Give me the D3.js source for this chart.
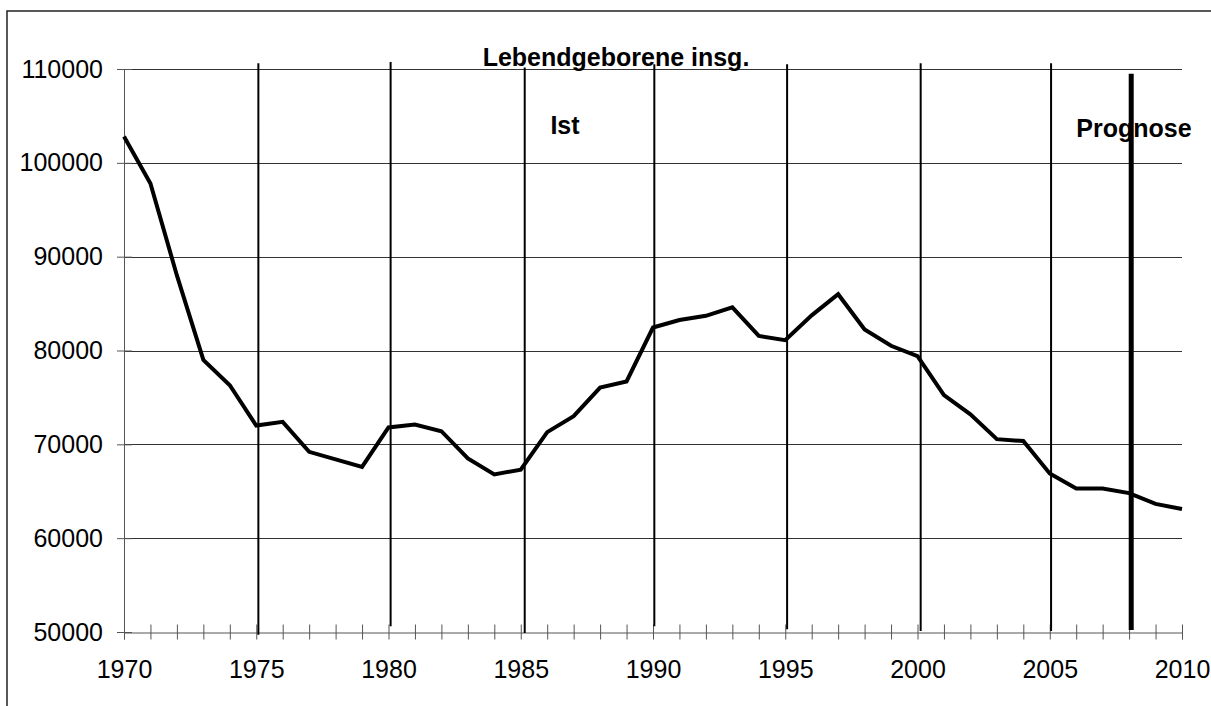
<!DOCTYPE html>
<html>
<head>
<meta charset="utf-8">
<script src="https://cdn.jsdelivr.net/npm/d3@7"></script>
<style>
html,body{margin:0;padding:0;background:#fff;}
svg{display:block;}
text{font-family:"Liberation Sans",Arial,sans-serif;}
</style>
</head>
<body>
<div id="chart"></div>
<script>
// ---- data ----
const years = d3.range(1970, 2011);
const births = [102800, 97800, 88000, 79000, 76300, 72000, 72400, 69200, 68400, 67600,
                71800, 72100, 71400, 68500, 66800, 67300, 71300, 73000, 76050, 76700,
                82450, 83250, 83700, 84600, 81550, 81100, 83750, 86000, 82250, 80500,
                79400, 75250, 73200, 70550, 70350, 66900, 65300, 65300, 64800, 63650, 63100];
const yTicks = [50000, 60000, 70000, 80000, 90000, 100000, 110000];
const xTickLabels = [1970, 1975, 1980, 1985, 1990, 1995, 2000, 2005, 2010];
const markerYears = [1975.08, 1980.08, 1985.15, 1990.05, 1995.07, 2000.12, 2005.05];
const markerTop = [110600, 110750, 110150, 110500, 110500, 110600, 110600];
const markerBottom = [49700, 50600, 49900, 50600, 50300, 50100, 50100];
const prognoseYear = 2008.08;
const prognoseRange = [109500, 50200];
const title = "Lebendgeborene insg.";
const labelIst = "Ist";
const labelPrognose = "Prognose";

// ---- layout ----
const W = 1211, H = 706;
const FS = 25;
const x = d3.scaleLinear().domain([1970, 2010]).range([124, 1182]);
const y = d3.scaleLinear().domain([50000, 110000]).range([632, 69]);

const svg = d3.select("#chart").append("svg").attr("width", W).attr("height", H);

// outer frame
svg.append("rect").attr("x", 7).attr("y", 11).attr("width", W + 20).attr("height", H + 20)
  .attr("fill", "none").attr("stroke", "#222").attr("stroke-width", 1.5);

// horizontal gridlines
svg.append("g").selectAll("line").data(yTicks.slice(1)).join("line")
  .attr("x1", x(1970)).attr("x2", x(2010))
  .attr("y1", d => Math.round(y(d)) + 0.5).attr("y2", d => Math.round(y(d)) + 0.5)
  .attr("stroke", "#333").attr("stroke-width", 1);

// y axis (labels + crossing ticks)
const yAxis = svg.append("g").attr("transform", `translate(${x(1970)},0)`)
  .call(d3.axisLeft(y).tickValues(yTicks).tickFormat(d3.format("d")).tickSize(7).tickPadding(14));
yAxis.select(".domain").attr("stroke", "#555");
yAxis.selectAll(".tick line").attr("x2", 8).attr("x1", -7).attr("stroke", "#555");
yAxis.selectAll(".tick text").attr("font-size", FS).attr("fill", "#000")
  .attr("font-family", "Liberation Sans, Arial, sans-serif");

// x axis
const xAxis = svg.append("g").attr("transform", `translate(0,${Math.round(y(50000)) + 0.5})`)
  .call(d3.axisBottom(x).tickValues(years).tickFormat(d => xTickLabels.includes(d) ? d : "").tickSize(7).tickPadding(21));
xAxis.select(".domain").attr("stroke", "#555");
xAxis.selectAll(".tick line").attr("y1", -8).attr("y2", 7).attr("stroke", "#555");
xAxis.selectAll(".tick text").attr("font-size", FS).attr("fill", "#000")
  .attr("font-family", "Liberation Sans, Arial, sans-serif");

// vertical marker lines
svg.append("g").selectAll("line").data(markerYears).join("line")
  .attr("x1", d => x(d)).attr("x2", d => x(d))
  .attr("y1", (d, i) => y(markerTop[i])).attr("y2", (d, i) => y(markerBottom[i]))
  .attr("stroke", "#000").attr("stroke-width", 2);

// prognose line
svg.append("line")
  .attr("x1", x(prognoseYear)).attr("x2", x(prognoseYear))
  .attr("y1", y(prognoseRange[0])).attr("y2", y(prognoseRange[1]))
  .attr("stroke", "#000").attr("stroke-width", 5);

// data line
const line = d3.line().x((d, i) => x(years[i])).y(d => y(d));
svg.append("path").datum(births).attr("d", line)
  .attr("fill", "none").attr("stroke", "#000").attr("stroke-width", 4).attr("stroke-linejoin", "miter");

// texts
svg.append("text").attr("x", 616).attr("y", 66).attr("text-anchor", "middle")
  .attr("font-size", FS).attr("font-weight", "bold").text(title);
svg.append("text").attr("x", 565).attr("y", 134).attr("text-anchor", "middle")
  .attr("font-size", FS).attr("font-weight", "bold").text(labelIst);
svg.append("text").attr("x", 1134).attr("y", 137).attr("text-anchor", "middle")
  .attr("font-size", FS).attr("font-weight", "bold").text(labelPrognose);
</script>
</body>
</html>
